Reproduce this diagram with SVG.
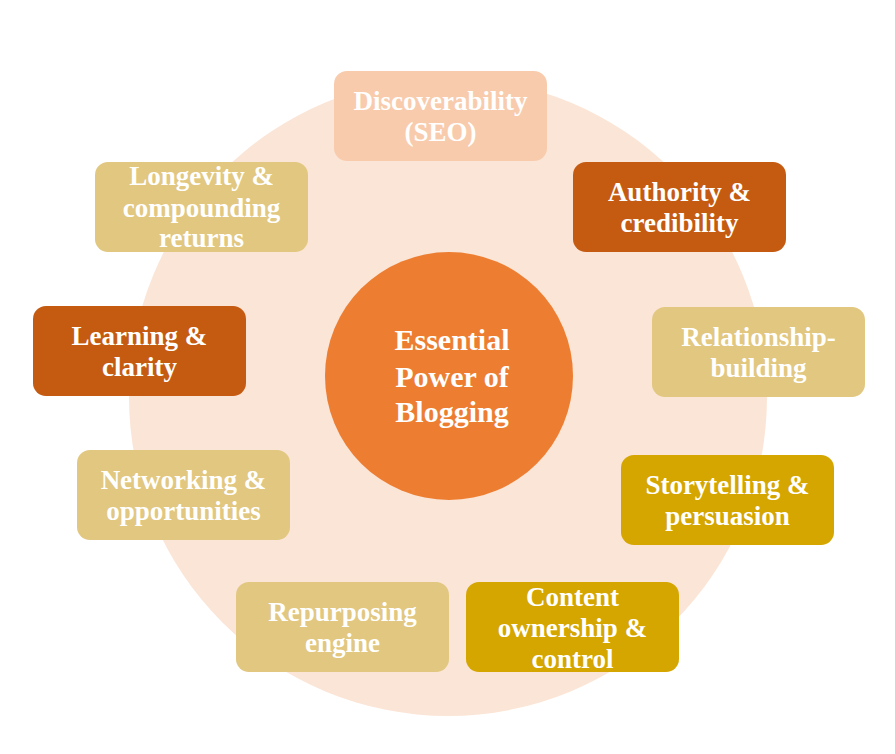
<svg xmlns="http://www.w3.org/2000/svg" width="895" height="754" viewBox="0 0 895 754">
<style>
.box{stroke:none}
.t{font-family:"Liberation Serif","Times New Roman",serif;font-weight:bold;font-size:27px;fill:#ffffff;text-anchor:middle}
.c{font-size:30px}
.peach{fill:#F8CBAD}
.dark{fill:#C55A11}
.tan{fill:#E1C77F}
.gold{fill:#D5A500}
</style>
<rect width="895" height="754" fill="#ffffff"/>
<circle id="ring" cx="448" cy="397" r="319" fill="#FBE5D6"/>
<g id="connectors"></g>
<g id="center">
<circle cx="449" cy="376" r="124" fill="#ED7D31"/>
<text class="t c" x="452" y="350">Essential</text>
<text class="t c" x="452" y="387">Power of</text>
<text class="t c" x="452" y="422">Blogging</text>
</g>
<g id="discoverability">
<rect class="box peach" x="334" y="71" width="213" height="90" rx="13"/>
<text class="t" x="440.5" y="110">Discoverability</text>
<text class="t" x="440.5" y="141">(SEO)</text>
</g>
<g id="authority">
<rect class="box dark" x="573" y="162" width="213" height="90" rx="13"/>
<text class="t" x="679.5" y="201">Authority &amp;</text>
<text class="t" x="679.5" y="232">credibility</text>
</g>
<g id="relationship">
<rect class="box tan" x="652" y="307" width="213" height="90" rx="13"/>
<text class="t" x="758.5" y="346">Relationship-</text>
<text class="t" x="758.5" y="377">building</text>
</g>
<g id="storytelling">
<rect class="box gold" x="621" y="455" width="213" height="90" rx="13"/>
<text class="t" x="727.5" y="494">Storytelling &amp;</text>
<text class="t" x="727.5" y="525">persuasion</text>
</g>
<g id="ownership">
<rect class="box gold" x="466" y="582" width="213" height="90" rx="13"/>
<text class="t" x="572.5" y="606">Content</text>
<text class="t" x="572.5" y="637">ownership &amp;</text>
<text class="t" x="572.5" y="668">control</text>
</g>
<g id="repurposing">
<rect class="box tan" x="236" y="582" width="213" height="90" rx="13"/>
<text class="t" x="342.5" y="621">Repurposing</text>
<text class="t" x="342.5" y="652">engine</text>
</g>
<g id="networking">
<rect class="box tan" x="77" y="450" width="213" height="90" rx="13"/>
<text class="t" x="183.5" y="489">Networking &amp;</text>
<text class="t" x="183.5" y="520">opportunities</text>
</g>
<g id="learning">
<rect class="box dark" x="33" y="306" width="213" height="90" rx="13"/>
<text class="t" x="139.5" y="345">Learning &amp;</text>
<text class="t" x="139.5" y="376">clarity</text>
</g>
<g id="longevity">
<rect class="box tan" x="95" y="162" width="213" height="90" rx="13"/>
<text class="t" x="201.5" y="185">Longevity &amp;</text>
<text class="t" x="201.5" y="217">compounding</text>
<text class="t" x="201.5" y="247">returns</text>
</g>
</svg>
